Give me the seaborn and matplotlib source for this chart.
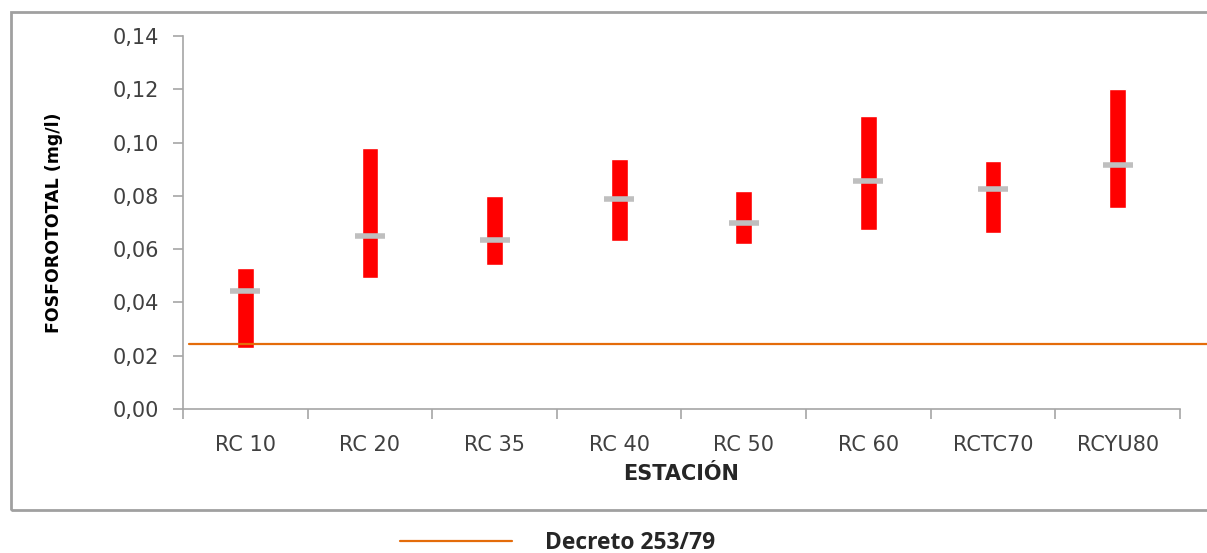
import matplotlib
matplotlib.use("Agg")
import matplotlib.pyplot as plt
import matplotlib.ticker as mticker
from matplotlib.lines import Line2D
from matplotlib.patches import Rectangle
import pandas as pd
import seaborn as sns

estaciones = ["RC 10", "RC 20", "RC 35", "RC 40", "RC 50", "RC 60", "RCTC70", "RCYU80"]
minimo = [0.023, 0.049, 0.054, 0.063, 0.062, 0.067, 0.066, 0.0755]
maximo = [0.053, 0.098, 0.080, 0.094, 0.082, 0.110, 0.093, 0.120]
promedio = [0.0443, 0.065, 0.0634, 0.079, 0.0698, 0.0857, 0.0826, 0.0916]
decreto = 0.0243

df = pd.DataFrame({"estacion": estaciones, "min": minimo, "max": maximo, "media": promedio})
df["rango"] = df["max"] - df["min"]

sns.set_theme(style="white")
plt.rcParams["font.family"] = ["DejaVu Sans"]

fig = plt.figure(figsize=(12.07, 5.53), dpi=100)
ax = fig.add_axes([0.1516, 0.2604, 0.8260, 0.6745])

sns.barplot(data=df, x="estacion", y="rango", bottom=df["min"], color="#ff0000",
            width=0.135, saturation=1, ax=ax)
sns.scatterplot(data=df, x="estacion", y="media", marker="_", s=480, linewidth=4,
                color="#bfbfbf", ax=ax, zorder=3)

ax.axhline(decreto, xmin=0.006, xmax=1.03, color="#e46c0a", lw=1.6, clip_on=False, zorder=4)

ax.set_xlim(-0.5, len(estaciones) - 0.5)
ax.set_ylim(0, 0.14)
ax.yaxis.set_major_locator(mticker.MultipleLocator(0.02))
ax.yaxis.set_major_formatter(mticker.FuncFormatter(lambda v, _: f"{v:.2f}".replace(".", ",")))
ax.xaxis.set_major_locator(mticker.FixedLocator(range(len(estaciones))))
ax.xaxis.set_minor_locator(mticker.FixedLocator([i - 0.5 for i in range(len(estaciones) + 1)]))

sns.despine(ax=ax)
for s in ["left", "bottom"]:
    ax.spines[s].set_color("#a6a6a6")
    ax.spines[s].set_linewidth(1.2)

ax.tick_params(axis="y", which="major", left=True, length=7, width=1.2, color="#a6a6a6",
               labelsize=15, labelcolor="#404040", pad=10)
ax.tick_params(axis="x", which="major", bottom=False, labelsize=15, labelcolor="#404040", pad=13)
ax.tick_params(axis="x", which="minor", bottom=True, length=7, width=1.2, color="#a6a6a6")

ax.set_xlabel("ESTACIÓN", fontsize=15, fontweight="bold", color="#262626", labelpad=6)
ax.set_ylabel("FOSFOROTOTAL (mg/l)", fontsize=12.5, fontweight="bold", color="#000000",
              family=["Liberation Sans Narrow", "DejaVu Sans Condensed", "DejaVu Sans"], labelpad=36)

# marco exterior del gráfico
fig.patches.append(Rectangle((11 / 1207, 1 - 510 / 553), 1.05, (510 - 12) / 553,
                             transform=fig.transFigure, fill=False, edgecolor="#a0a0a0",
                             lw=2, clip_on=False))

fig.legend(handles=[Line2D([], [], color="#e46c0a", lw=1.6, label="Decreto 253/79")],
           loc="center", bbox_to_anchor=(0.462, 1 - 543 / 553), frameon=False,
           handlelength=4.9, handletextpad=1.45,
           prop={"weight": "bold", "size": 16.5, "family": ["Open Sans", "DejaVu Sans"]})

fig.savefig("out.png", dpi=100)
